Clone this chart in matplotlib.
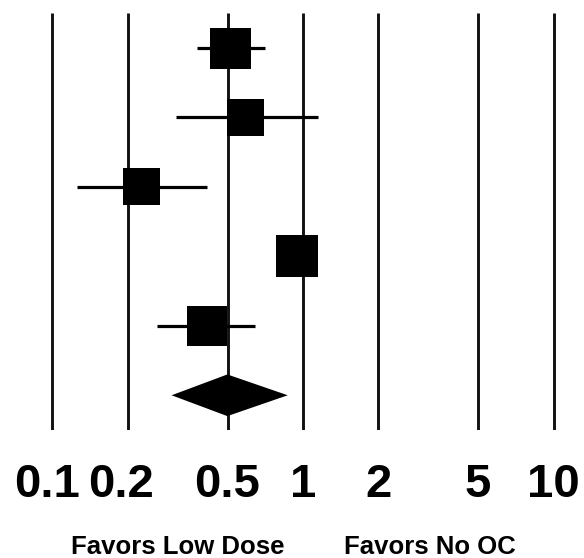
import numpy as np
import matplotlib
matplotlib.use("Agg")
import matplotlib.pyplot as plt
from matplotlib.transforms import ScaledTranslation

# ---- data ----
study_or = [0.515, 0.592, 0.227, 0.948, 0.413]
ci_low = [0.376, 0.310, 0.125, 0.90, 0.261]
ci_high = [0.705, 1.15, 0.413, 1.00, 0.643]
weights = [21.6, 17.6, 17.6, 22.7, 20.5]
pooled_or = 0.499
pooled_low = 0.299
pooled_high = 0.869
tick_values = [0.1, 0.2, 0.5, 1, 2, 5, 10]
tick_labels = ["0.1", "0.2", "0.5", "1", "2", "5", "10"]
left_label = "Favors Low Dose"
right_label = "Favors No OC"

plt.rcParams['font.family'] = ['Liberation Sans', 'DejaVu Sans']

W, H = 584, 558
fig = plt.figure(figsize=(W / 100, H / 100), dpi=100)

# axes pixel geometry
top_px, bot_px = 13.3, 430.0
ax = fig.add_axes([0, (H - bot_px) / H, 1, (bot_px - top_px) / H])
ax.set_xscale('log')
px_per_dec = 250.6
x1_px = 303.0
ax.set_xlim(10 ** (-x1_px / px_per_dec), 10 ** ((W - x1_px) / px_per_dec))
n = len(study_or)
ax.set_ylim(0.5, n + 1.5)

# vertical reference lines
ax.vlines(tick_values, 0.5, n + 1.5, colors='#111111', linewidth=2.1, zorder=1)

ys = np.arange(n, 0, -1) + 1  # rows 6..2
ax.hlines(ys, ci_low, ci_high, colors='black', linewidth=2.3, zorder=2)

k = 8.82  # px per sqrt(weight)
side_pt = np.sqrt(np.array(weights)) * k * 0.72
ax.scatter(study_or, ys, marker='s', s=side_pt ** 2, c='black',
           linewidths=0, zorder=3)

# pooled diamond
h = 0.30
ax.fill([pooled_low, pooled_or, pooled_high, pooled_or],
        [1, 1 + h, 1, 1 - h], color='black', linewidth=0, zorder=3)

ax.set_yticks([])
ax.set_xticks(tick_values)
ax.set_xticks([], minor=True)
ax.set_xticklabels(tick_labels, fontsize=34, fontweight='bold')
ax.tick_params(axis='x', length=0, pad=24)
# crowded labels at the left are nudged leftward as in the reference
shifts_px = [-5, -7, 0, 0, 0, 0, 0]
for lab, dx in zip(ax.get_xticklabels(), shifts_px):
    if dx:
        lab.set_transform(lab.get_transform() +
                          ScaledTranslation(dx / 100, 0, fig.dpi_scale_trans))
for s in ax.spines.values():
    s.set_visible(False)

fig.text(177.5 / W, (H - 554) / H, left_label, ha='center', va='baseline',
         fontsize=18.5, fontweight='bold')
fig.text(430 / W, (H - 554) / H, right_label, ha='center', va='baseline',
         fontsize=18.5, fontweight='bold')

fig.savefig('out.png', dpi=100)
